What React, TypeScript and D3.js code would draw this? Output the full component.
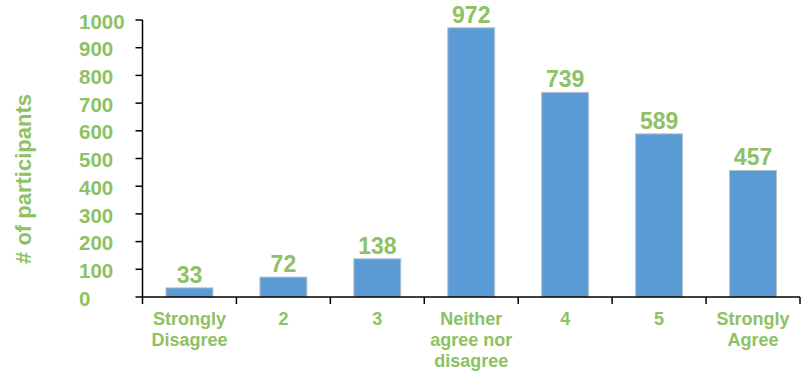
import React from "react";
import * as d3 from "d3";

const categories: string[][] = [
  ["Strongly", "Disagree"],
  ["2"],
  ["3"],
  ["Neither", "agree nor", "disagree"],
  ["4"],
  ["5"],
  ["Strongly", "Agree"],
];
const values: number[] = [33, 72, 138, 972, 739, 589, 457];
const yTicks: number[] = [0, 100, 200, 300, 400, 500, 600, 700, 800, 900, 1000];
const yTitle = "# of participants";

const W = 801;
const H = 377;
const GREEN = "#8DC163";
const BLUE = "#5B9BD5";
const FONT = "'Liberation Sans', Arial, sans-serif";

export default function App() {
  const x0 = 142.5;
  const x1 = 800;
  const yBottom = 297;
  const yTop = 20;
  const keys = categories.map((_, i) => String(i));
  const x = d3.scaleBand<string>().domain(keys).range([x0, x1]).paddingInner(0.5).paddingOuter(0.25);
  const y = d3.scaleLinear().domain([0, 1000]).range([yBottom, yTop]);
  const step = x.step();
  const boundaries = d3.range(categories.length + 1).map((i) => x0 + i * step);

  return (
    <svg width={W} height={H} style={{ position: "absolute", left: 0, top: 0, display: "block" }}>
      <rect x={0} y={0} width={W} height={H} fill="#ffffff" />
      {values.map((v, i) => (
        <rect
          key={i}
          x={x(String(i))!}
          y={y(v)}
          width={x.bandwidth()}
          height={yBottom - y(v)}
          fill={BLUE}
          stroke="#b8c4cc"
          strokeWidth={1}
        />
      ))}
      {values.map((v, i) => (
        <text
          key={"v" + i}
          x={x(String(i))! + x.bandwidth() / 2}
          y={y(v) - 5}
          textAnchor="middle"
          fontFamily={FONT}
          fontWeight="bold"
          fontSize={23}
          fill={GREEN}
        >
          {v}
        </text>
      ))}
      <line x1={x0} x2={x0} y1={y(1000)} y2={yBottom} stroke="#000" strokeWidth={1.5} />
      {yTicks.map((t) => (
        <g key={"t" + t}>
          <line x1={x0 - 7} x2={x0} y1={y(t)} y2={y(t)} stroke="#000" strokeWidth={1.5} />
          <text
            x={79}
            y={y(t) + 1.5}
            dy="0.35em"
            textAnchor="start"
            fontFamily={FONT}
            fontWeight="bold"
            fontSize={20.5}
            fill={GREEN}
          >
            {t}
          </text>
        </g>
      ))}
      <line x1={x0} x2={x1} y1={yBottom} y2={yBottom} stroke="#000" strokeWidth={1.5} />
      {boundaries.map((b, i) => (
        <line key={"b" + i} x1={b} x2={b} y1={yBottom} y2={yBottom + 7} stroke="#000" strokeWidth={1.5} />
      ))}
      {categories.map((lines, i) => (
        <text
          key={"c" + i}
          textAnchor="middle"
          fontFamily={FONT}
          fontWeight="bold"
          fontSize={18}
          fill={GREEN}
        >
          {lines.map((l, j) => (
            <tspan key={j} x={x(String(i))! + x.bandwidth() / 2} y={325 + j * 21}>
              {l}
            </tspan>
          ))}
        </text>
      ))}
      <text
        transform={`translate(31,179) rotate(-90)`}
        textAnchor="middle"
        fontFamily={FONT}
        fontWeight="bold"
        fontSize={22}
        fill={GREEN}
      >
        {yTitle}
      </text>
    </svg>
  );
}
